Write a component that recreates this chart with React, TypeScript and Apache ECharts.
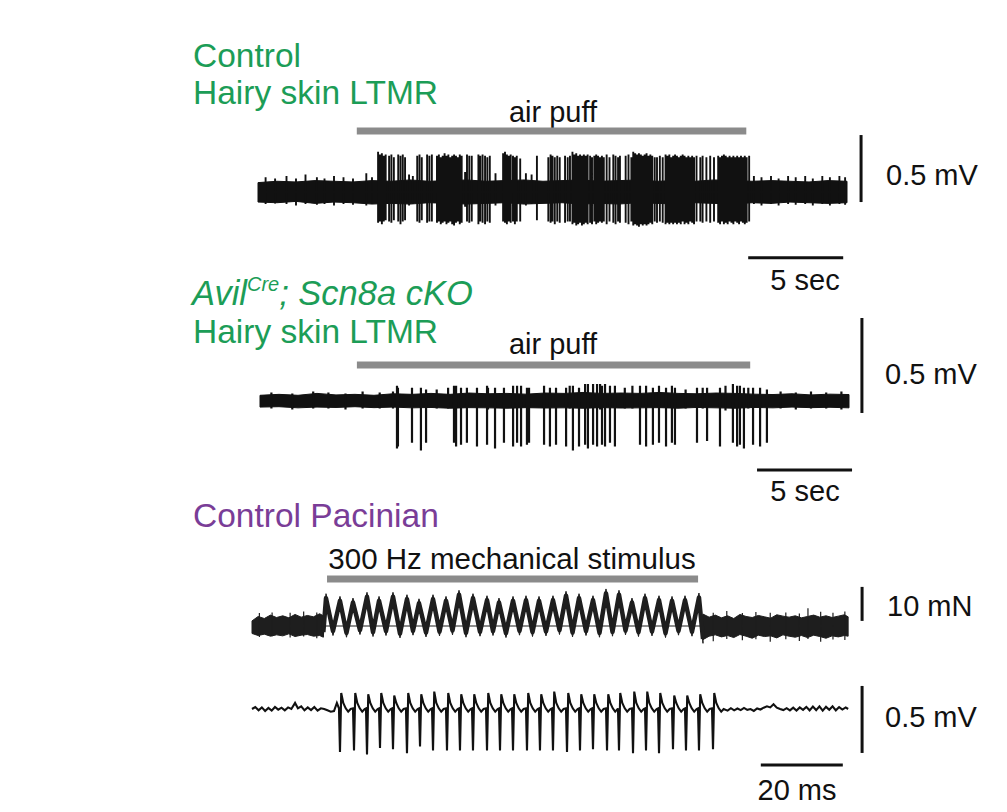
import React, { useEffect, useRef } from "react";
import * as echarts from "echarts";

const FONT = "'Liberation Sans', Arial, Helvetica, sans-serif";
const GREEN = "#1c9d57";
const PURPLE = "#7a3d97";
const GRAY = "#8b8b8b";
const INK = "#111111";

// ---------------- Panel A: Control hairy skin LTMR (time s, voltage mV) ----------------
const bandTimesA = [0,1,2,3,4,5,6,7,8,9,10,11,12,13,14,15,16,17,18,19,20,21,22,23,24,25,26,27,28,29,30,31];
const bandUpperA = [0.07,0.08,0.075,0.085,0.08,0.075,0.085,0.08,0.09,0.08,0.085,0.09,0.08,0.085,0.09,0.08,0.085,0.09,0.08,0.085,0.09,0.08,0.085,0.08,0.09,0.085,0.08,0.085,0.08,0.075,0.085,0.08];
const bandLowerA = [-0.075,-0.08,-0.07,-0.085,-0.075,-0.08,-0.09,-0.085,-0.09,-0.08,-0.085,-0.09,-0.085,-0.08,-0.09,-0.085,-0.08,-0.09,-0.085,-0.09,-0.08,-0.085,-0.09,-0.08,-0.085,-0.09,-0.08,-0.085,-0.075,-0.08,-0.085,-0.08];
// [time, peak, trough]
const spikesA = [
  [0.4,0.11,-0.09],[0.9,0.1,-0.085],[1.5,0.12,-0.09],[2.0,0.1,-0.1],[2.5,0.13,-0.09],[3.1,0.11,-0.095],[3.5,0.1,-0.09],[4.0,0.12,-0.1],[4.5,0.11,-0.09],[5.0,0.1,-0.095],[5.7,0.14,-0.1],[6.0,0.11,-0.09],
  [6.32,0.3,-0.23],[6.42,0.28,-0.22],[6.52,0.29,-0.24],[6.62,0.27,-0.22],[6.72,0.28,-0.21],
  [6.9,0.27,-0.22],[7.02,0.28,-0.23],[7.15,0.26,-0.21],
  [7.38,0.28,-0.22],[7.5,0.27,-0.24],[7.62,0.28,-0.22],[7.74,0.26,-0.21],
  [7.95,0.13,-0.1],[8.15,0.12,-0.09],
  [8.38,0.27,-0.22],[8.5,0.28,-0.23],[8.62,0.26,-0.21],
  [8.9,0.28,-0.23],[9.02,0.27,-0.22],[9.15,0.28,-0.22],
  [9.42,0.27,-0.23],[9.52,0.28,-0.22],[9.62,0.26,-0.24],[9.72,0.27,-0.23],[9.82,0.29,-0.22],[9.92,0.27,-0.24],[10.02,0.28,-0.23],[10.12,0.26,-0.22],[10.22,0.27,-0.24],[10.32,0.28,-0.25],[10.42,0.27,-0.23],[10.52,0.26,-0.22],[10.62,0.28,-0.24],[10.72,0.27,-0.23],
  [10.9,0.15,-0.11],
  [11.0,0.28,-0.22],[11.12,0.27,-0.23],[11.25,0.27,-0.22],
  [11.6,0.28,-0.24],[11.7,0.27,-0.22],[11.82,0.28,-0.23],[11.95,0.27,-0.24],[12.07,0.26,-0.22],[12.2,0.27,-0.23],
  [12.5,0.14,-0.1],
  [12.9,0.29,-0.22],[13.0,0.3,-0.23],[13.1,0.28,-0.24],[13.2,0.27,-0.22],[13.3,0.28,-0.23],[13.42,0.27,-0.22],[13.52,0.26,-0.24],[13.62,0.27,-0.22],
  [13.8,0.25,-0.22],[14.1,0.14,-0.1],[14.4,0.13,-0.09],[14.68,0.27,-0.21],
  [15.28,0.26,-0.22],[15.4,0.28,-0.23],[15.5,0.27,-0.22],[15.62,0.26,-0.24],[15.75,0.27,-0.22],[15.88,0.26,-0.23],
  [16.16,0.27,-0.23],[16.3,0.26,-0.22],[16.42,0.27,-0.22],
  [16.55,0.3,-0.24],[16.65,0.28,-0.23],[16.75,0.29,-0.25],[16.85,0.27,-0.24],[16.95,0.28,-0.23],[17.05,0.27,-0.25],[17.15,0.28,-0.24],[17.25,0.27,-0.23],[17.35,0.28,-0.24],[17.48,0.27,-0.23],[17.58,0.26,-0.24],[17.7,0.27,-0.22],[17.8,0.28,-0.24],[17.9,0.27,-0.23],[18.0,0.26,-0.22],
  [18.1,0.27,-0.23],[18.2,0.26,-0.22],[18.35,0.28,-0.24],[18.5,0.26,-0.22],
  [18.7,0.28,-0.23],[18.82,0.27,-0.24],[18.95,0.26,-0.22],[19.05,0.27,-0.23],
  [19.35,0.27,-0.23],[19.5,0.28,-0.24],[19.65,0.26,-0.22],
  [19.75,0.3,-0.25],[19.85,0.29,-0.24],[19.95,0.28,-0.25],[20.05,0.29,-0.26],[20.15,0.28,-0.24],[20.25,0.27,-0.25],[20.35,0.28,-0.24],[20.45,0.29,-0.25],[20.55,0.27,-0.24],[20.65,0.28,-0.23],[20.75,0.27,-0.24],[20.88,0.26,-0.22],
  [21.0,0.26,-0.23],[21.15,0.27,-0.22],[21.3,0.26,-0.23],
  [21.45,0.28,-0.24],[21.55,0.27,-0.23],[21.65,0.28,-0.24],[21.75,0.26,-0.23],[21.85,0.27,-0.24],[21.95,0.28,-0.23],[22.05,0.27,-0.24],[22.15,0.26,-0.23],[22.25,0.27,-0.24],[22.35,0.28,-0.22],[22.45,0.27,-0.24],[22.55,0.26,-0.23],[22.65,0.27,-0.24],[22.75,0.26,-0.22],[22.85,0.27,-0.23],[22.95,0.26,-0.24],[23.08,0.27,-0.22],
  [23.28,0.26,-0.22],[23.4,0.27,-0.23],[23.6,0.26,-0.22],[23.8,0.27,-0.23],[24.0,0.26,-0.22],
  [24.22,0.27,-0.23],[24.32,0.26,-0.24],[24.42,0.27,-0.22],[24.52,0.28,-0.24],[24.62,0.27,-0.23],[24.72,0.26,-0.24],[24.82,0.27,-0.22],[24.92,0.26,-0.23],[25.02,0.27,-0.24],[25.12,0.26,-0.22],[25.22,0.27,-0.23],[25.32,0.26,-0.24],[25.42,0.27,-0.22],[25.52,0.26,-0.23],[25.62,0.27,-0.24],[25.72,0.26,-0.23],[25.85,0.27,-0.22],
  [26.1,0.12,-0.09],[26.5,0.11,-0.1],[27.0,0.12,-0.09],[27.4,0.1,-0.1],[27.9,0.12,-0.09],[28.3,0.11,-0.095],[28.8,0.12,-0.09],[29.2,0.1,-0.1],[29.7,0.12,-0.09],[30.1,0.11,-0.1],[30.6,0.12,-0.09],[30.9,0.11,-0.095],
];
const puffA = [5.2, 25.7];
const puffLevelA = 0.455;
const vBarA = [31.74, -0.075, 0.425];   // x, y from, y to (0.5 mV)
const hBarA = [25.8, 30.8, -0.49];      // x from, x to (5 s), y

// ---------------- Panel B: Avil-Cre; Scn8a cKO ----------------
const bandTimesB = [0,1,2,3,4,5,6,7,8,9,10,11,12,13,14,15,16,17,18,19,20,21,22,23,24,25,26,27,28,29,30,31];
const bandUpperB = [0.03,0.035,0.03,0.04,0.032,0.035,0.03,0.038,0.035,0.04,0.035,0.042,0.038,0.04,0.036,0.042,0.04,0.045,0.04,0.042,0.04,0.045,0.04,0.038,0.042,0.04,0.036,0.034,0.038,0.032,0.036,0.034];
const bandLowerB = [-0.032,-0.03,-0.036,-0.032,-0.034,-0.03,-0.035,-0.032,-0.036,-0.034,-0.038,-0.035,-0.036,-0.038,-0.035,-0.037,-0.036,-0.038,-0.035,-0.037,-0.036,-0.035,-0.038,-0.034,-0.036,-0.038,-0.034,-0.036,-0.032,-0.035,-0.033,-0.036];
const spikesB = [
  [0.6,0.045,-0.04],[1.7,0.04,-0.045],[2.8,0.05,-0.04],[3.6,0.045,-0.04],[4.5,0.04,-0.045],[5.4,0.05,-0.04],[6.3,0.045,-0.04],[7.0,0.05,-0.04],
  [7.21,0.08,-0.25],[7.26,0.07,-0.24],[8.0,0.07,-0.22],[8.47,0.07,-0.26],[8.74,0.06,-0.22],
  [9.3,0.06,-0.04],[9.9,0.07,-0.04],
  [10.21,0.08,-0.22],[10.32,0.08,-0.24],[10.58,0.07,-0.23],[10.89,0.07,-0.22],[11.42,0.07,-0.24],[11.95,0.08,-0.23],
  [12.0,0.07,-0.045],
  [12.37,0.07,-0.25],[12.84,0.07,-0.22],[13.32,0.08,-0.24],[13.53,0.08,-0.22],[13.74,0.08,-0.24],[14.05,0.07,-0.23],[14.16,0.07,-0.22],
  [14.95,0.08,-0.23],[15.26,0.07,-0.24],[15.58,0.07,-0.23],[16.11,0.07,-0.24],
  [16.3,0.08,-0.04],
  [16.47,0.08,-0.26],[16.79,0.07,-0.24],[17.11,0.09,-0.23],[17.26,0.09,-0.25],[17.53,0.09,-0.23],[17.74,0.09,-0.24],
  [17.9,0.09,-0.045],
  [18.0,0.08,-0.23],[18.16,0.09,-0.24],[18.42,0.08,-0.22],[18.68,0.08,-0.24],
  [19.2,0.07,-0.04],[19.6,0.08,-0.04],
  [20.0,0.08,-0.23],[20.32,0.08,-0.24],[20.68,0.07,-0.23],[21.0,0.08,-0.22],[21.37,0.07,-0.24],[21.68,0.08,-0.22],[21.84,0.07,-0.23],
  [22.4,0.06,-0.04],
  [23.0,0.07,-0.22],
  [23.3,0.07,-0.04],
  [23.53,0.07,-0.21],[24.21,0.07,-0.24],
  [24.5,0.08,-0.05],
  [24.89,0.09,-0.22],[25.11,0.08,-0.24],[25.26,0.08,-0.23],[25.47,0.07,-0.25],
  [25.7,0.07,-0.04],
  [25.95,0.07,-0.23],[26.32,0.07,-0.24],[26.68,0.06,-0.22],
  [27.4,0.05,-0.04],[28.2,0.045,-0.045],[29.0,0.05,-0.04],[29.8,0.045,-0.04],[30.6,0.05,-0.045],
];
const puffB = [5.1, 25.8];
const puffLevelB = 0.19;
const vBarB = [31.68, -0.063, 0.437];
const hBarB = [26.16, 31.16, -0.363];

// ---------------- Panel C: 300 Hz mechanical stimulus (time ms, force mN) ----------------
const preTimesC = [0,1.5,3,4.5,6,7.5,9,10.5,12,13.5,15,16.5,17.4];
const preUpperC = [1.5,2.8,2.2,3.2,2.5,3.0,2.4,3.4,2.6,3.1,2.7,3.6,3.0];
const preLowerC = [-2.2,-2.8,-2.4,-3.0,-2.6,-2.9,-2.3,-3.1,-2.7,-2.5,-3.0,-2.8,-3.3];
const postTimesC = [110,111.5,113,114.5,116,117.5,119,120.5,122,123.5,125,126.5,128,129.5,131,132.5,134,135.5,137,138.5,140,141.5,143,144.5,145.4];
const postUpperC = [3.5,2.6,3.2,2.4,3.0,2.2,3.4,2.8,2.5,3.1,2.7,2.3,3.3,2.9,2.6,3.0,2.4,2.8,3.2,2.6,3.0,2.5,2.9,3.3,2.7];
const postLowerC = [-4.0,-3.0,-2.6,-3.2,-2.8,-3.4,-2.5,-3.0,-3.6,-2.7,-3.1,-2.9,-3.5,-2.6,-3.0,-3.3,-2.8,-3.4,-2.7,-3.1,-3.6,-2.9,-3.2,-2.8,-3.0];
const peakTimesC = [18.05,21.46,24.63,28.05,30.98,34.39,37.8,40.73,44.15,47.32,50.49,53.9,57.32,60.24,63.66,66.83,70.0,73.41,76.59,79.76,83.17,86.34,89.51,92.68,95.85,99.27,102.44,105.61,109.02];
const peakForceC = [8.2,7.4,6.9,8.6,7.4,8.6,7.9,6.7,7.9,7.4,9.2,8.2,7.6,6.9,7.4,7.6,7.4,7.6,8.9,8.2,7.6,9.6,9.2,6.9,8.2,7.6,7.4,7.6,8.4];
const troughForceC = [-1.5,-2.0,-1.2,-1.8,-1.5,-2.2,-1.4,-1.9,-1.6,-1.3,-2.0,-1.7,-1.5,-2.1,-1.4,-1.8,-1.6,-1.2,-1.9,-1.5,-2.0,-1.7,-1.3,-1.8,-1.6,-2.1,-1.4,-1.7];
const stimStartC = [17.4, -1.8];
const stimEndC = [110.0, -3.8];
const bumpsC = [
  [1.8,3.8,-3.2],[4.9,4.0,-3.0],[9.3,3.9,-3.4],[12.6,4.3,-3.1],[15.8,4.0,-3.6],
  [112.5,3.9,-4.5],[115.8,4.4,-3.8],[119.6,3.8,-4.2],[122.9,4.1,-3.9],[126.4,3.9,-4.6],[130.2,4.0,-3.9],[133.5,3.7,-4.4],[135.6,5.2,-3.8],[138.7,4.2,-4.6],[141.7,3.9,-4.0],[144.6,4.3,-4.1],
];
const stimBarC = [18.3, 108.8];
const stimLevelC = 13.8;
const vBarC = [148.8, 1.5, 11.5]; // 10 mN
const traceHalfThicknessC = 1.3; // mN, visual half-thickness of the noisy force trace

// ---------------- Panel D: Pacinian afferent (time ms, mV) ----------------
const preNoiseD = [[0,0.0],[0.8,0.015],[1.6,-0.01],[2.4,0.012],[3.2,-0.015],[4.0,0.008],[4.8,-0.012],[5.6,0.015],[6.4,-0.005],[7.2,0.01],[8.0,-0.01],[8.8,0.012],[9.6,0.0],[10.5,0.045],[11.2,0.005],[12.0,0.02],[12.8,-0.01],[13.6,0.012],[14.4,-0.008],[15.2,0.015],[16.0,-0.012],[16.8,0.005],[17.6,0.0],[18.4,-0.01],[19.2,-0.02],[20.0,-0.015],[20.7,0.045]];
const spikeTimesD = [21.46,24.88,28.05,31.22,34.39,37.8,40.98,44.15,47.56,50.73,53.9,57.32,60.49,63.66,67.07,70.24,73.41,76.83,80.0,83.17,86.59,89.51,92.93,96.1,99.27,102.68,105.85,109.02,112.44];
const spikeTopD = [0.12,0.12,0.11,0.12,0.10,0.12,0.11,0.13,0.12,0.11,0.11,0.12,0.11,0.11,0.12,0.11,0.13,0.12,0.11,0.11,0.11,0.12,0.13,0.13,0.12,0.10,0.10,0.11,0.12];
const spikeBottomD = [-0.32,-0.31,-0.34,-0.29,-0.30,-0.33,-0.28,-0.31,-0.31,-0.31,-0.31,-0.31,-0.31,-0.31,-0.31,-0.31,-0.31,-0.32,-0.31,-0.30,-0.31,-0.31,-0.33,-0.31,-0.33,-0.30,-0.31,-0.31,-0.30];
const postNoiseD = [[115.2,0.0],[116.0,-0.012],[116.8,0.006],[117.6,-0.01],[118.4,0.004],[119.2,-0.008],[120.0,0.008],[120.8,-0.006],[121.6,0.0],[122.4,-0.014],[123.2,0.004],[124.0,-0.004],[124.8,0.01],[125.6,0.02],[126.4,0.012],[127.2,0.035],[128.0,0.01],[128.8,0.0],[129.6,-0.008],[130.4,0.006],[131.2,-0.01],[132.0,0.01],[132.8,-0.012],[133.6,0.012],[134.4,-0.006],[135.2,0.016],[136.0,-0.01],[136.8,0.018],[137.6,-0.008],[138.4,0.02],[139.2,-0.012],[140.0,0.016],[140.8,-0.006],[141.6,0.02],[142.4,-0.01],[143.2,0.014],[144.0,-0.004],[144.8,0.012],[145.4,0.0]];
const vBarD = [148.8, -0.328, 0.172];
const hBarD = [124.1, 144.1, -0.418];

// ---------------- helpers ----------------
function spikePath(list: number[][]) {
  const sorted = [...list].sort((a, b) => a[0] - b[0]);
  const out: number[][] = [];
  for (const [t, top, bot] of sorted) out.push([t, 0], [t, top], [t, bot], [t, 0]);
  return out;
}

function pacinianTrace() {
  const out: number[][] = preNoiseD.map((p) => [p[0], p[1]]);
  spikeTimesD.forEach((t, i) => {
    out.push(
      [t - 0.25, 0.005],
      [t, spikeBottomD[i]],
      [t + 0.3, spikeTopD[i]],
      [t + 0.8, 0.045],
      [t + 1.4, 0.005],
      [t + 2.0, -0.02],
      [t + 2.6, 0.0]
    );
  });
  postNoiseD.forEach((p) => out.push([p[0], p[1]]));
  return out;
}

function oscillation() {
  const out: number[][] = [stimStartC];
  peakTimesC.forEach((t, i) => {
    out.push([t, peakForceC[i]]);
    if (i < peakTimesC.length - 1) out.push([(t + peakTimesC[i + 1]) / 2, troughForceC[i]]);
  });
  out.push(stimEndC);
  return out;
}

function band(idx: number, times: number[], up: number[], lo: number[], color: string) {
  return {
    type: "custom",
    xAxisIndex: idx,
    yAxisIndex: idx,
    silent: true,
    clip: false,
    data: [[times[0], 0]],
    renderItem: (_p: any, api: any) => {
      const pts: number[][] = [];
      for (let i = 0; i < times.length; i++) pts.push(api.coord([times[i], up[i]]));
      for (let i = times.length - 1; i >= 0; i--) pts.push(api.coord([times[i], lo[i]]));
      return { type: "polygon", shape: { points: pts }, style: { fill: color, stroke: color, lineWidth: 1 } };
    },
  };
}

function line(idx: number, data: number[][], color: string, width: number, join = "miter") {
  return {
    type: "line",
    xAxisIndex: idx,
    yAxisIndex: idx,
    data,
    symbol: "none",
    silent: true,
    clip: false,
    lineStyle: { color, width, cap: "butt", join },
  };
}

function txt(x: number, y: number, text: string, size: number, color: string, align = "left", extra: any = {}) {
  return {
    type: "text",
    x,
    y,
    silent: true,
    style: {
      text,
      fontSize: size,
      fontFamily: FONT,
      fill: color,
      align,
      textAlign: align,
      verticalAlign: "middle",
      textVerticalAlign: "middle",
      ...extra,
    },
  };
}

export default function App() {
  const ref = useRef<HTMLDivElement>(null);
  useEffect(() => {
    if (!ref.current) return;
    const chart = echarts.init(ref.current, undefined, { renderer: "svg" });
    const grids = [
      { left: 258, top: 125, width: 627, height: 134, x: [0, 33], y: [-0.5, 0.5] },
      { left: 260, top: 306, width: 627, height: 190, x: [0, 33], y: [-0.5, 0.5] },
      { left: 252, top: 571.6, width: 623.2, height: 95.2, x: [0, 152], y: [-12, 16] },
      { left: 252, top: 642, width: 623.2, height: 147.4, x: [0, 152], y: [-0.6, 0.5] },
    ];
    const osc = oscillation();
    const oscTimes = osc.map((p) => p[0]);
    const oscUp = osc.map((p) => p[1] + traceHalfThicknessC);
    const oscLo = osc.map((p) => p[1] - traceHalfThicknessC);
    const option: any = {
      animation: false,
      backgroundColor: "#ffffff",
      grid: grids.map((g) => ({ left: g.left, top: g.top, width: g.width, height: g.height, show: false })),
      xAxis: grids.map((g, i) => ({ type: "value", gridIndex: i, min: g.x[0], max: g.x[1], show: false })),
      yAxis: grids.map((g, i) => ({ type: "value", gridIndex: i, min: g.y[0], max: g.y[1], show: false })),
      series: [
        // Panel A
        band(0, bandTimesA, bandUpperA, bandLowerA, INK),
        line(0, spikePath(spikesA), INK, 1.9),
        line(0, [[puffA[0], puffLevelA], [puffA[1], puffLevelA]], GRAY, 7),
        line(0, [[vBarA[0], vBarA[1]], [vBarA[0], vBarA[2]]], INK, 3),
        line(0, [[hBarA[0], hBarA[2]], [hBarA[1], hBarA[2]]], INK, 3),
        // Panel B
        band(1, bandTimesB, bandUpperB, bandLowerB, INK),
        line(1, spikePath(spikesB), INK, 2.2),
        line(1, [[puffB[0], puffLevelB], [puffB[1], puffLevelB]], GRAY, 7),
        line(1, [[vBarB[0], vBarB[1]], [vBarB[0], vBarB[2]]], INK, 3),
        line(1, [[hBarB[0], hBarB[2]], [hBarB[1], hBarB[2]]], INK, 3),
        // Panel C
        band(2, preTimesC, preUpperC, preLowerC, "#1e1e1e"),
        band(2, postTimesC, postUpperC, postLowerC, "#1e1e1e"),
        line(2, spikePath(bumpsC), "#1e1e1e", 1.2),
        band(2, oscTimes, oscUp, oscLo, "#1e1e1e"),
        line(2, osc, "#1e1e1e", 4.5, "round"),
        line(2, [[stimBarC[0], stimLevelC], [stimBarC[1], stimLevelC]], GRAY, 7),
        line(2, [[vBarC[0], vBarC[1]], [vBarC[0], vBarC[2]]], INK, 3),
        // Panel D
        line(3, pacinianTrace(), INK, 2.1),
        line(3, [[vBarD[0], vBarD[1]], [vBarD[0], vBarD[2]]], INK, 3),
        line(3, [[hBarD[0], hBarD[2]], [hBarD[1], hBarD[2]]], INK, 3),
      ],
      graphic: [
        txt(193, 55, "Control", 33.5, GREEN),
        txt(193, 92, "Hairy skin LTMR", 33.5, GREEN),
        {
          type: "text",
          x: 192,
          y: 293,
          silent: true,
          style: {
            text: "{a|Avil}{s|Cre}{a|; Scn8a cKO}",
            fontFamily: FONT,
            fontSize: 34.5,
            fill: GREEN,
            verticalAlign: "middle",
            textVerticalAlign: "middle",
            rich: {
              a: { fontFamily: FONT, fontSize: 34.5, fontStyle: "italic", fill: GREEN, color: GREEN, lineHeight: 38 },
              s: { fontFamily: FONT, fontSize: 20, fontStyle: "italic", fill: GREEN, color: GREEN, lineHeight: 26, verticalAlign: "top" },
            },
          },
        },
        txt(193, 331, "Hairy skin LTMR", 33.5, GREEN),
        txt(193, 515, "Control Pacinian", 33.5, PURPLE),
        txt(553, 112, "air puff", 29, INK, "center"),
        txt(553, 344, "air puff", 29, INK, "center"),
        txt(512, 558, "300 Hz mechanical stimulus", 29.5, INK, "center"),
        txt(886, 175, "0.5 mV", 29, INK),
        txt(805, 280, "5 sec", 29, INK, "center"),
        txt(885, 374, "0.5 mV", 29, INK),
        txt(805, 491, "5 sec", 29, INK, "center"),
        txt(887, 606, "10 mN", 29, INK),
        txt(885, 717, "0.5 mV", 29, INK),
        txt(797, 790, "20 ms", 29, INK, "center"),
      ],
    };
    chart.setOption(option);
    return () => chart.dispose();
  }, []);
  return (
    <div
      ref={ref}
      style={{ position: "fixed", left: 0, top: 0, width: 1007, height: 812, background: "#fff" }}
    />
  );
}
